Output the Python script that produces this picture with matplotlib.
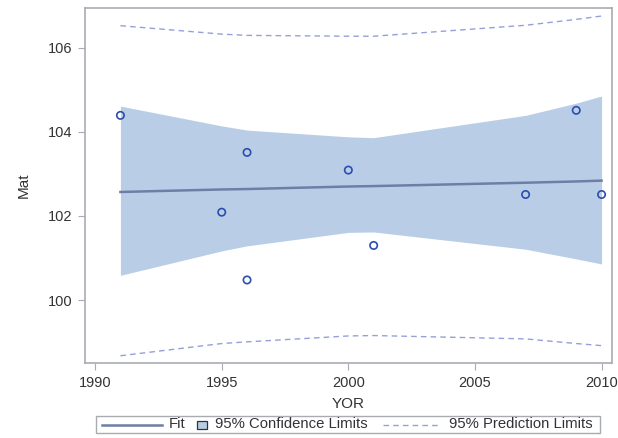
import matplotlib
matplotlib.use("Agg")
import matplotlib.pyplot as plt
from matplotlib.lines import Line2D
from matplotlib.patches import Rectangle

plt.rcParams['font.family'] = ['Liberation Sans', 'DejaVu Sans']

# Observations
obs_yor = [1991, 1995, 1996, 1996, 2000, 2001, 2007, 2009, 2010]
obs_mat = [104.39, 102.09, 103.51, 100.48, 103.09, 101.30, 102.51, 104.51, 102.51]

# Fit and limits at the distinct YOR values
yor = [1991, 1995, 1996, 2000, 2001, 2007, 2009, 2010]
fit = [102.57, 102.63, 102.64, 102.70, 102.71, 102.79, 102.82, 102.84]
clm_upper = [104.61, 104.14, 104.04, 103.88, 103.86, 104.39, 104.68, 104.85]
clm_lower = [100.59, 101.17, 101.29, 101.61, 101.62, 101.21, 100.98, 100.86]
pl_upper = [106.52, 106.32, 106.29, 106.27, 106.27, 106.53, 106.67, 106.75]
pl_lower = [98.68, 98.97, 99.01, 99.15, 99.16, 99.08, 98.97, 98.92]

x_ticks = [1990, 1995, 2000, 2005, 2010]
y_ticks = [100, 102, 104, 106]
legend_labels = ['Fit', '95% Confidence Limits', '95% Prediction Limits']

band_color = '#B9CEE6'
fit_color = '#6C7FA6'
pred_color = '#95A0DA'
marker_color = '#2B4DAE'
frame_color = '#A8ACB0'
text_color = '#333333'

W, H = 618, 438
fig = plt.figure(figsize=(W / 100, H / 100), dpi=100)
ax = fig.add_axes([0.1375, 0.1705, 0.8523, 0.8112])

ax.fill_between(yor, clm_lower, clm_upper, color=band_color, lw=0, zorder=1)
ax.plot(yor, fit, color=fit_color, lw=1.8, zorder=3)
ax.plot(yor, pl_upper, color=pred_color, lw=1.0, ls=(0, (4, 3)), zorder=2)
ax.plot(yor, pl_lower, color=pred_color, lw=1.0, ls=(0, (4, 3)), zorder=2)
ax.scatter(obs_yor, obs_mat, s=28, facecolors='none', edgecolors=marker_color,
           linewidths=1.2, zorder=4)

ax.set_xlim(1989.6, 2010.4)
ax.set_ylim(98.5, 106.94)
ax.set_xticks(x_ticks)
ax.set_yticks(y_ticks)
ax.tick_params(direction='out', length=5, color=frame_color, labelcolor=text_color,
               labelsize=10.5, pad=4)
for s in ax.spines.values():
    s.set_color(frame_color)
    s.set_linewidth(1.2)

ax.set_xlabel('YOR', fontsize=11, color=text_color, labelpad=5)
ax.set_ylabel('Mat', fontsize=11, color=text_color, labelpad=12)


# Legend drawn in figure pixel coordinates (origin top-left)
def fx(px):
    return px / W


def fy(py):
    return 1 - py / H


tf = fig.transFigure
row_y = 424.5
fig.add_artist(Rectangle((fx(96), fy(433)), fx(600) - fx(96), fy(416) - fy(433),
                         transform=tf, facecolor='white', edgecolor=frame_color,
                         lw=1.0))
fig.add_artist(Line2D([fx(102), fx(162)], [fy(row_y), fy(row_y)], transform=tf,
                      color=fit_color, lw=1.8))
fig.text(fx(169), fy(row_y), legend_labels[0], transform=tf, fontsize=10.7,
         color=text_color, va='center', ha='left')
fig.add_artist(Rectangle((fx(196.5), fy(428.5)), fx(206.5) - fx(196.5),
                         fy(420.5) - fy(428.5), transform=tf,
                         facecolor=band_color, edgecolor='#333333', lw=0.9))
fig.text(fx(215), fy(row_y), legend_labels[1], transform=tf, fontsize=10.7,
         color=text_color, va='center', ha='left')
fig.add_artist(Line2D([fx(383), fx(438)], [fy(row_y), fy(row_y)], transform=tf,
                      color=pred_color, lw=1.0, ls=(0, (4, 3))))
fig.text(fx(449), fy(row_y), legend_labels[2], transform=tf, fontsize=10.7,
         color=text_color, va='center', ha='left')

fig.savefig('out.png', dpi=100)
